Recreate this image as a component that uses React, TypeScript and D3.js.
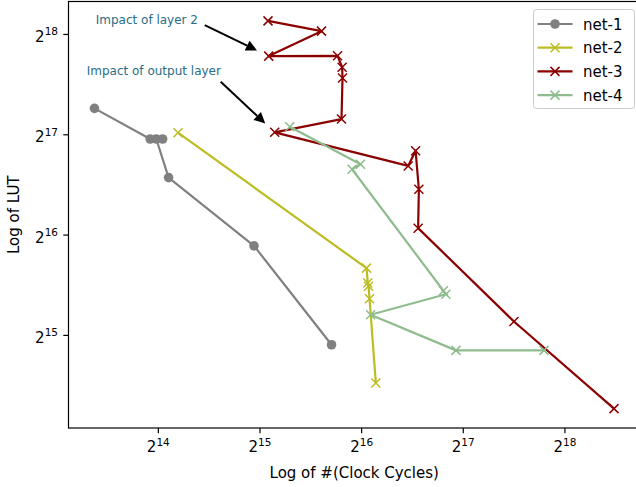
import { useEffect, useRef } from "react";
import * as d3 from "d3";

// series: clock cycles (x) and LUT count (y)
const seriesNames = ["net-1", "net-2", "net-3", "net-4"];
const seriesColors = ["#808080", "#bcbd22", "#8b0000", "#8fbc8f"];
const seriesMarkers = ["o", "x", "x", "x"];

const net1Cycles = [10600, 15500, 16870, 16160, 17570, 31460, 53380];
const net1Lut = [157300, 127300, 127300, 127300, 97500, 60850, 30720];

const net2Cycles = [18730, 67750, 68370, 68700, 69170, 72210];
const net2Lut = [133000, 52170, 47050, 46020, 42200, 23590];

const net3Cycles = [34610, 49840, 34780, 55610, 57370, 57530, 57130, 36230, 90030, 94690, 96820, 96350, 185200, 366400];
const net3Lut = [287900, 268200, 225700, 226200, 209100, 193900, 146100, 133300, 105700, 117400, 89960, 68750, 36080, 19760];

const net4Cycles = [40150, 65040, 61400, 114500, 116400, 69660, 124700, 227300];
const net4Lut = [138500, 106900, 103300, 44610, 43540, 37800, 29550, 29550];

const xTickExps = [14, 15, 16, 17, 18];
const yTickExps = [15, 16, 17, 18];

// notes point at points of net-3
const noteTexts = ["Impact of layer 2", "Impact of output layer"];
const noteTargets = [2, 7];

export default function App() {
  const ref = useRef<SVGSVGElement>(null);

  useEffect(() => {
    if (!ref.current) return;
    const svg = d3.select(ref.current);
    svg.selectAll("*").remove();
    const W = 636;
    const H = 487;
    const m = { l: 68.5, r: 640, t: 1.5, b: 428 };
    const font = "DejaVu Sans";
    const fs = 15;

    const series = [
      { xs: net1Cycles, ys: net1Lut },
      { xs: net2Cycles, ys: net2Lut },
      { xs: net3Cycles, ys: net3Lut },
      { xs: net4Cycles, ys: net4Lut },
    ];
    const allX = series.flatMap((s) => s.xs).map(Math.log2);
    const allY = series.flatMap((s) => s.ys).map(Math.log2);
    const [x0, x1] = d3.extent(allX) as [number, number];
    const [y0, y1] = d3.extent(allY) as [number, number];
    const px = (x1 - x0) * 0.05;
    const py = (y1 - y0) * 0.05;

    const x = d3.scaleLog().base(2).domain([2 ** (x0 - px), 2 ** (x1 + px)]).range([m.l, m.r]);
    const y = d3.scaleLog().base(2).domain([2 ** (y0 - py), 2 ** (y1 + py)]).range([m.b, m.t]);

    svg.attr("viewBox", `0 0 ${W} ${H}`);
    svg.append("rect").attr("width", W).attr("height", H).attr("fill", "white");

    // frame
    svg.append("rect")
      .attr("x", m.l).attr("y", m.t)
      .attr("width", m.r - m.l).attr("height", m.b - m.t)
      .attr("fill", "none").attr("stroke", "black").attr("stroke-width", 1.2);

    // x ticks
    const xt = svg.append("g");
    xTickExps.forEach((e) => {
      const cx = x(2 ** e);
      xt.append("line").attr("x1", cx).attr("x2", cx).attr("y1", m.b).attr("y2", m.b + 5.2)
        .attr("stroke", "black").attr("stroke-width", 1.2);
      const t = xt.append("text").attr("x", cx).attr("y", m.b + 24)
        .attr("text-anchor", "middle").attr("font-family", font).attr("fill", "black");
      t.append("tspan").attr("font-size", fs).text("2");
      t.append("tspan").attr("font-size", 10.5).attr("dy", -6.5).text(String(e));
    });

    // y ticks
    const yt = svg.append("g");
    yTickExps.forEach((e) => {
      const cy = y(2 ** e);
      yt.append("line").attr("x1", m.l - 5.2).attr("x2", m.l).attr("y1", cy).attr("y2", cy)
        .attr("stroke", "black").attr("stroke-width", 1.2);
      const t = yt.append("text").attr("x", m.l - 10.5).attr("y", cy + 7.5)
        .attr("text-anchor", "end").attr("font-family", font).attr("fill", "black");
      t.append("tspan").attr("font-size", fs).text("2");
      t.append("tspan").attr("font-size", 10.5).attr("dy", -6.5).text(String(e));
    });

    // axis labels
    svg.append("text")
      .attr("x", (m.l + m.r) / 2).attr("y", 478)
      .attr("text-anchor", "middle").attr("font-family", font).attr("font-size", fs).attr("fill", "black")
      .text("Log of #(Clock Cycles)");
    svg.append("text")
      .attr("transform", `translate(19,${(m.t + m.b) / 2}) rotate(-90)`)
      .attr("text-anchor", "middle").attr("font-family", font).attr("font-size", fs).attr("fill", "black")
      .text("Log of LUT");

    // lines + markers
    const line = d3.line<[number, number]>().x((d) => x(d[0])).y((d) => y(d[1]));
    series.forEach((s, i) => {
      const pts = s.xs.map((v, j) => [v, s.ys[j]] as [number, number]);
      const g = svg.append("g");
      g.append("path").datum(pts).attr("d", line)
        .attr("fill", "none").attr("stroke", seriesColors[i]).attr("stroke-width", 2.2)
        .attr("stroke-linejoin", "round");
      pts.forEach((p) => {
        const cx = x(p[0]);
        const cy = y(p[1]);
        if (seriesMarkers[i] === "o") {
          g.append("circle").attr("cx", cx).attr("cy", cy).attr("r", 4.8).attr("fill", seriesColors[i]);
        } else {
          const r = 4.5;
          g.append("path")
            .attr("d", `M${cx - r},${cy - r}L${cx + r},${cy + r}M${cx - r},${cy + r}L${cx + r},${cy - r}`)
            .attr("stroke", seriesColors[i]).attr("stroke-width", 1.5).attr("fill", "none");
        }
      });
    });

    // annotations with arrows
    const textOffsets = [[-173, -32], [-188, -57]];
    const arrowStarts = [[-64, -31], [-54, -50.6]];
    noteTexts.forEach((txt, i) => {
      const k = noteTargets[i];
      const tx = x(net3Cycles[k]);
      const ty = y(net3Lut[k]);
      svg.append("text")
        .attr("x", tx + textOffsets[i][0]).attr("y", ty + textOffsets[i][1])
        .attr("font-family", font).attr("font-size", 12).attr("fill", "#2a6d85")
        .text(txt);
      const sx = tx + arrowStarts[i][0];
      const sy = ty + arrowStarts[i][1];
      const dx = tx - sx;
      const dy = ty - sy;
      const len = Math.hypot(dx, dy);
      const ux = dx / len;
      const uy = dy / len;
      const ex = tx - ux * 13;
      const ey = ty - uy * 13;
      const hl = 11;
      const hw = 5.5;
      const bx = ex - ux * hl;
      const by = ey - uy * hl;
      svg.append("line").attr("x1", sx).attr("y1", sy).attr("x2", bx).attr("y2", by)
        .attr("stroke", "black").attr("stroke-width", 2);
      svg.append("path")
        .attr("d", `M${ex},${ey}L${bx - uy * hw},${by + ux * hw}L${bx + uy * hw},${by - ux * hw}Z`)
        .attr("fill", "black");
    });

    // legend
    const lg = svg.append("g");
    lg.append("rect").attr("x", 533.5).attr("y", 9.5).attr("width", 101).attr("height", 99).attr("rx", 3)
      .attr("fill", "white").attr("fill-opacity", 0.8).attr("stroke", "#cccccc");
    seriesNames.forEach((name, i) => {
      const cy = 24 + i * 23.7;
      lg.append("line").attr("x1", 537.5).attr("x2", 572.5).attr("y1", cy).attr("y2", cy)
        .attr("stroke", seriesColors[i]).attr("stroke-width", 2.2);
      const cx = 555;
      if (seriesMarkers[i] === "o") {
        lg.append("circle").attr("cx", cx).attr("cy", cy).attr("r", 4.8).attr("fill", seriesColors[i]);
      } else {
        const r = 4.5;
        lg.append("path")
          .attr("d", `M${cx - r},${cy - r}L${cx + r},${cy + r}M${cx - r},${cy + r}L${cx + r},${cy - r}`)
          .attr("stroke", seriesColors[i]).attr("stroke-width", 1.5);
      }
      lg.append("text").attr("x", 583).attr("y", cy + 5.5)
        .attr("font-family", font).attr("font-size", fs).attr("fill", "black").text(name);
    });
  }, []);

  return (
    <div style={{ position: "fixed", left: 0, top: 0 }}>
      <svg ref={ref} width={636} height={487} style={{ display: "block" }} />
    </div>
  );
}
